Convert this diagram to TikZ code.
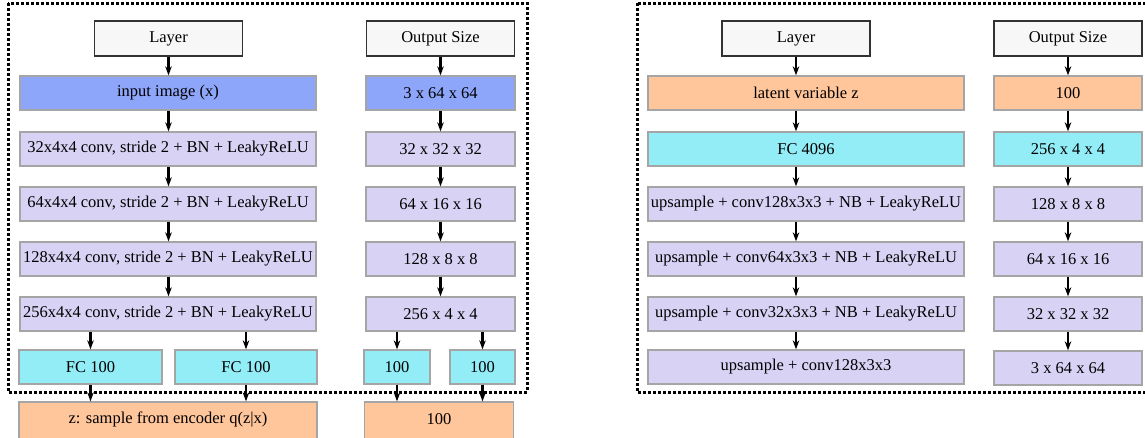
\documentclass[tikz,border=0pt]{standalone}
\usepackage{fontspec}
\setmainfont{Liberation Serif}
\usetikzlibrary{arrows.meta}
\definecolor{hdrfill}{RGB}{247,247,247}
\definecolor{hdrdraw}{RGB}{50,50,50}
\definecolor{boxdraw}{RGB}{165,165,165}
\definecolor{cblue}{RGB}{141,166,250}
\definecolor{clav}{RGB}{216,211,245}
\definecolor{ccyan}{RGB}{147,237,247}
\definecolor{corange}{RGB}{255,197,155}
\tikzset{
  base/.style={rectangle, inner sep=0pt, font=\rmfamily\fontsize{16.5}{19}\selectfont, line width=1.3pt, minimum height=34pt},
  hdr/.style={base, fill=hdrfill, draw=hdrdraw, line width=1.1pt, minimum width=148pt, minimum height=35pt},
  bluebox/.style={base, fill=cblue, draw=boxdraw},
  lavbox/.style={base, fill=clav, draw=boxdraw},
  cyanbox/.style={base, fill=ccyan, draw=boxdraw},
  orbox/.style={base, fill=corange, draw=boxdraw},
  arr/.style={line width=2.2pt, -{Stealth[length=9pt,width=6.5pt]}},
  frame/.style={line width=3pt, dash pattern=on 3pt off 2pt}
}
\begin{document}
\begin{tikzpicture}[x=1pt,y=-1pt]
\useasboundingbox (0,0) rectangle (1145,437);
\clip (0,0) rectangle (1145,437);
% frames
\draw[frame] (8,3) rectangle (527,392);
\draw[frame] (637,3) rectangle (1160,392);
% ---------- left panel ----------
\node[hdr] (lh) at (168.5,38.5) {Layer};
\node[hdr] (oh) at (440.5,38.5) {Output Size};
\node[bluebox, minimum width=296pt] (l1) at (168,93) {input image (x)};
\node[lavbox, minimum width=296pt] (l2) at (168,149) {32x4x4 conv, stride 2 + BN + LeakyReLU};
\node[lavbox, minimum width=296pt] (l3) at (168,204) {64x4x4 conv, stride 2 + BN + LeakyReLU};
\node[lavbox, minimum width=296pt] (l4) at (168,259) {128x4x4 conv, stride 2 + BN + LeakyReLU};
\node[lavbox, minimum width=296pt] (l5) at (168,314) {256x4x4 conv, stride 2 + BN + LeakyReLU};
\node[cyanbox, minimum width=143pt] (fa) at (90.5,367) {FC 100};
\node[cyanbox, minimum width=142pt] (fb) at (246,367) {FC 100};
\node[orbox, minimum width=298pt, minimum height=40pt] (z) at (168,422) {};
\node[base] at (168,419) {z: sample from encoder q(z|x)};
\node[bluebox, minimum width=149pt] (o1) at (440.5,93) {3 x 64 x 64};
\node[lavbox, minimum width=149pt] (o2) at (440.5,149) {32 x 32 x 32};
\node[lavbox, minimum width=149pt] (o3) at (440.5,204) {64 x 16 x 16};
\node[lavbox, minimum width=149pt] (o4) at (440.5,259) {128 x 8 x 8};
\node[lavbox, minimum width=149pt] (o5) at (440.5,314) {256 x 4 x 4};
\node[cyanbox, minimum width=66pt] (oa) at (397,367) {100};
\node[cyanbox, minimum width=65pt] (ob) at (482.5,367) {100};
\node[orbox, minimum width=149pt, minimum height=40pt] (oz) at (439,422) {};
\node[base] at (439,419) {100};
% arrows left
\foreach \a/\b in {lh/l1,l1/l2,l2/l3,l3/l4,l4/l5}{
  \draw[arr] (\a.south -| lh.south) -- (\b.north -| lh.south);
}
\foreach \a/\b in {oh/o1,o1/o2,o2/o3,o3/o4,o4/o5}{
  \draw[arr] (\a.south -| oh.south) -- (\b.north -| oh.south);
}
\draw[arr] (l5.south -| fa.north) -- (fa.north);
\draw[arr] (l5.south -| fb.north) -- (fb.north);
\draw[arr] (o5.south -| oa.north) -- (oa.north);
\draw[arr] (o5.south -| ob.north) -- (ob.north);
\draw[arr] (fa.south) -- (fa.south |- z.north);
\draw[arr] (fb.south) -- (fb.south |- z.north);
\draw[arr] (oa.south) -- (oa.south |- oz.north);
\draw[arr] (ob.south) -- (ob.south |- oz.north);
% ---------- right panel ----------
\node[hdr] (rh) at (796,38.5) {Layer};
\node[hdr] (sh) at (1068,38.5) {Output Size};
\node[orbox, minimum width=316pt] (r1) at (806,93) {latent variable z};
\node[cyanbox, minimum width=316pt] (r2) at (806,149) {FC 4096};
\node[lavbox, minimum width=316pt] (r3) at (806,204) {upsample + conv128x3x3 + NB + LeakyReLU};
\node[lavbox, minimum width=316pt] (r4) at (806,259) {upsample + conv64x3x3 + NB + LeakyReLU};
\node[lavbox, minimum width=316pt] (r5) at (806,314) {upsample + conv32x3x3 + NB + LeakyReLU};
\node[lavbox, minimum width=316pt] (r6) at (806,367) {upsample + conv128x3x3};
\node[orbox, minimum width=148pt] (s1) at (1068,93) {100};
\node[cyanbox, minimum width=148pt] (s2) at (1068,149) {256 x 4 x 4};
\node[lavbox, minimum width=148pt] (s3) at (1068,204) {128 x 8 x 8};
\node[lavbox, minimum width=148pt] (s4) at (1068,259) {64 x 16 x 16};
\node[lavbox, minimum width=148pt] (s5) at (1068,314) {32 x 32 x 32};
\node[lavbox, minimum width=148pt] (s6) at (1068,368) {3 x 64 x 64};
\foreach \a/\b in {rh/r1,r1/r2,r2/r3,r3/r4,r4/r5,r5/r6}{
  \draw[arr] (\a.south -| rh.south) -- (\b.north -| rh.south);
}
\foreach \a/\b in {sh/s1,s1/s2,s2/s3,s3/s4,s4/s5,s5/s6}{
  \draw[arr] (\a.south -| sh.south) -- (\b.north -| sh.south);
}
\end{tikzpicture}
\end{document}
